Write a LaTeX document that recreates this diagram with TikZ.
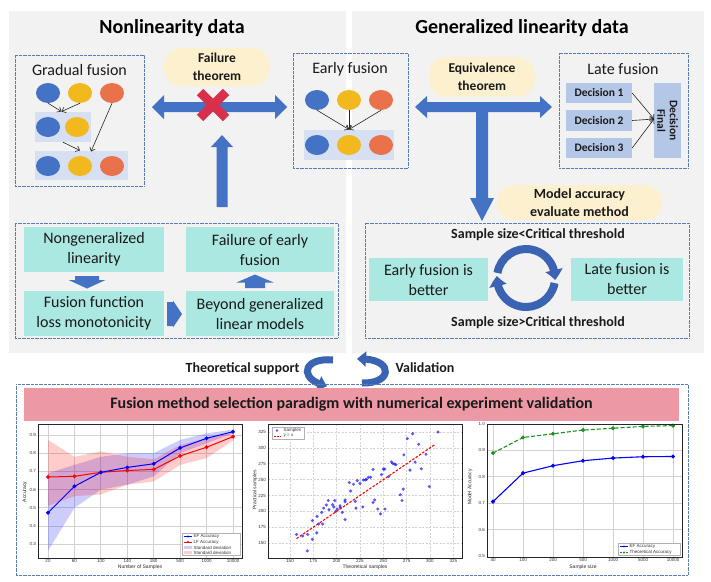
\documentclass[tikz,border=0pt]{standalone}
\usepackage{fontspec}
\setmainfont{Carlito}
\newfontfamily\chartfont{Liberation Sans}
\usetikzlibrary{arrows.meta,shapes.geometric,bending}
\definecolor{panelgray}{HTML}{F2F2F2}
\definecolor{cblue}{HTML}{4472C4}
\definecolor{cyellow}{HTML}{F2B91F}
\definecolor{corange}{HTML}{E9724A}
\definecolor{lightblue}{HTML}{D6E0F2}
\definecolor{decblue}{HTML}{B4C7E7}
\definecolor{creamy}{HTML}{FCF0CE}
\definecolor{tealfill}{HTML}{AAE8E1}
\definecolor{dotblue}{HTML}{5A7BB5}
\definecolor{xred}{HTML}{D8304A}
\definecolor{pinkbar}{HTML}{EC98A5}
\definecolor{ringblue}{HTML}{3B63B3}
\definecolor{gridgray}{HTML}{D2D2D2}
\definecolor{efblue}{HTML}{0000FF}
\definecolor{lfred}{HTML}{FF0000}
\definecolor{thgreen}{HTML}{1F8F1F}
\definecolor{txt}{HTML}{1A1A1A}
\begin{document}
\begin{tikzpicture}[x=1pt,y=-1pt,
  panel/.style={fill=panelgray},
  dotbox/.style={draw=dotblue, line width=0.6pt, dash pattern=on 0.6pt off 0.7pt, inner sep=0pt},
  blob/.style={ellipse, minimum width=24pt, minimum height=20pt, inner sep=0pt},
  bblob/.style={blob, fill=cblue},
  yblob/.style={blob, fill=cyellow},
  oblob/.style={blob, fill=corange},
  grp/.style={fill=lightblue, inner sep=0pt},
  note/.style={fill=creamy, rounded corners=18pt, inner sep=0pt, align=center, text=txt, font=\bfseries\fontsize{13.5}{18}\selectfont},
  thinarrow/.style={-{Straight Barb[length=3.5pt,width=6pt]}, line width=0.6pt, black!85},
  tealbox/.style={fill=tealfill, inner sep=0pt, align=center, text=txt, font=\fontsize{16}{20}\selectfont},
  decbox/.style={fill=decblue, inner sep=0pt, text=txt, font=\bfseries\fontsize{11.5}{12}\selectfont},
  boxlabel/.style={inner sep=0pt, text=txt, font=\fontsize{16}{19}\selectfont},
  heading/.style={inner sep=0pt, text=black, font=\bfseries\fontsize{20}{24}\selectfont},
  boldlab/.style={inner sep=0pt, text=txt, font=\bfseries\fontsize{14}{17}\selectfont},
  curved/.style={ringblue, line width=7pt, -{Triangle[length=9pt,width=15pt,bend]}},
  gridline/.style={gridgray, line width=0.9pt},
  dgridline/.style={gridgray, line width=0.7pt, dash pattern=on 2pt off 1.5pt},
  frame/.style={draw=black!85, line width=0.8pt},
  ticklab/.style={inner sep=0.5pt, text=black!80, font=\chartfont\fontsize{4.5}{5}\selectfont},
  axlab/.style={inner sep=0pt, text=black!85, font=\chartfont\fontsize{5}{6}\selectfont},
  legbox/.style={fill=white, draw=black!30, line width=0.4pt}
]
\useasboundingbox (0,0) rectangle (711,581);
\fill[white] (0,0) rectangle (711,581);

% ---------- top panels ----------
\fill[panel] (9,11) rectangle (346,353);
\fill[panel] (352,11) rectangle (704,353);
\node[heading] (h1) at (172,28) {Nonlinearity data};
\node[heading] (h2) at (522,28) {Generalized linearity data};

% gradual fusion
\node[dotbox, minimum width=129pt, minimum height=131pt] (gfbox) at (79.5,120.5) {};
\node[boxlabel] (gflab) at (79.5,70) {Gradual fusion};
\node[bblob] (g1) at (48,93) {};
\node[yblob] (g2) at (80,93) {};
\node[oblob] (g3) at (112,93) {};
\node[grp, minimum width=56pt, minimum height=30pt] (gr1) at (63,127) {};
\node[bblob] (g4) at (48,127) {};
\node[yblob] (g5) at (77,127) {};
\node[grp, minimum width=93pt, minimum height=29pt] (gr2) at (81.5,165.5) {};
\node[bblob] (g6) at (48,166) {};
\node[yblob] (g7) at (80,166) {};
\node[oblob] (g8) at (112,166) {};
\coordinate (m1) at (61.5,111.5);
\coordinate (m2) at (80,150.5);
\coordinate (m3) at (91,151.5);
\draw[thinarrow] (g1.south) -- (m1);
\draw[thinarrow] (g2.south) -- (m1);
\draw[thinarrow] (gr1.south) -- (m2);
\draw[thinarrow] (g3.south) -- (m3);

% failure theorem
\node[note, minimum width=106pt, minimum height=38pt] (fail) at (217,67) {Failure\\theorem};
\fill[cblue] (152,107) -- (164,95) -- (164,102) -- (275,102) -- (275,95) -- (287,107)
  -- (275,119) -- (275,112) -- (164,112) -- (164,119) -- cycle;
\draw[xred, line width=9pt] (200,92) -- (226,118) (226,92) -- (200,118);
\fill[cblue] (222,135) -- (233,147) -- (227.5,147) -- (227.5,207) -- (216.5,207)
  -- (216.5,147) -- (211,147) -- cycle;

% early fusion
\node[dotbox, minimum width=115pt, minimum height=115pt] (efbox) at (350.5,110.5) {};
\node[boxlabel] (eflab) at (350,69) {Early fusion};
\node[bblob] (e1) at (317,100) {};
\node[yblob] (e2) at (349,100) {};
\node[oblob] (e3) at (381,100) {};
\node[grp, minimum width=90pt, minimum height=30pt] (er) at (349,145) {};
\node[bblob] (e4) at (317,145) {};
\node[yblob] (e5) at (349,145) {};
\node[oblob] (e6) at (381,145) {};
\coordinate (em) at (349,129.5);
\draw[thinarrow] (e1.south) -- (em);
\draw[thinarrow] (e2.south) -- (em);
\draw[thinarrow] (e3.south) -- (em);

% equivalence theorem
\node[note, minimum width=106pt, minimum height=40pt] (equiv) at (482,77) {Equivalence\\theorem};
\fill[cblue] (415,107) -- (427,96) -- (427,102) -- (540,102) -- (540,96) -- (552,107)
  -- (540,118) -- (540,112) -- (488,112) -- (488,198) -- (494,198) -- (482,221)
  -- (470,198) -- (476,198) -- (476,112) -- (427,112) -- (427,118) -- cycle;

% late fusion
\node[dotbox, minimum width=129pt, minimum height=115pt] (lfbox) at (623.5,110.5) {};
\node[boxlabel] (lflab) at (623,69) {Late fusion};
\node[decbox, minimum width=66pt, minimum height=20pt] (d1) at (599,93) {Decision 1};
\node[decbox, minimum width=66pt, minimum height=21pt] (d2) at (599,120.5) {Decision 2};
\node[decbox, minimum width=66pt, minimum height=20pt] (d3) at (599,148) {Decision 3};
\node[decbox, minimum width=27pt, minimum height=75pt] (fd) at (667.5,120.5) {};
\node[rotate=-90, align=center, inner sep=0pt, text=txt, font=\bfseries\fontsize{11.5}{12.5}\selectfont] (fdtext) at (fd.center) {Decision\\Final};
\coordinate (fdin) at (654,119);
\draw[thinarrow] (d1.east) -- (fdin);
\draw[thinarrow] (d2.east) -- (fdin);
\draw[thinarrow] (d3.east) -- (fdin);

% model accuracy
\node[note, rounded corners=17pt, font=\bfseries\fontsize{14}{18}\selectfont, minimum width=165pt, minimum height=35pt] (model) at (579.5,202.5) {Model accuracy\\evaluate method};

% bottom-left reasoning box
\node[dotbox, minimum width=323pt, minimum height=115pt] (blbox) at (176.5,280.5) {};
\node[tealbox, minimum width=140pt, minimum height=45pt] (t1) at (94,249.5) {Nongeneralized\\linearity};
\node[tealbox, minimum width=148pt, minimum height=45pt] (t2) at (260,249.5) {Failure of early\\fusion};
\node[tealbox, minimum width=140pt, minimum height=45pt] (t3) at (94,313.5) {Fusion function\\loss monotonicity};
\node[tealbox, minimum width=148pt, minimum height=45pt] (t4) at (260,313.5) {Beyond generalized\\linear models};
\fill[cblue] (75,276) -- (99,276) -- (99,280) -- (105.5,280) -- (87,288.5) -- (68.5,280) -- (75,280) -- cycle;
\fill[cblue] (255,274.5) -- (273.5,282.5) -- (265,282.5) -- (265,288) -- (245,288) -- (245,282.5) -- (236.5,282.5) -- cycle;
\fill[cblue] (167,302) -- (173,302) -- (173,300.5) -- (182,314) -- (173,327.5) -- (173,326) -- (167,326) -- cycle;

% bottom-right box
\node[dotbox, minimum width=324pt, minimum height=115pt] (brbox) at (527,280.5) {};
\node[boldlab] (lt) at (538,235) {Sample size<Critical threshold};
\node[boldlab] (gt) at (538,323) {Sample size>Critical threshold};
\node[tealbox, font=\fontsize{16}{20}\selectfont, minimum width=119pt, minimum height=43pt] (ef) at (428.5,279.5) {Early fusion is\\better};
\node[tealbox, font=\fontsize{16}{20}\selectfont, minimum width=112pt, minimum height=43pt] (lf) at (627,279.5) {Late fusion is\\better};
\begin{scope}[shift={(526,278)}, x=1pt, y=1pt]
  \draw[ringblue, line width=8pt, -{Triangle[length=10pt,width=17pt,bend]}] (170:29) arc[start angle=170, end angle=-4, radius=29];
  \draw[ringblue, line width=8pt, -{Triangle[length=10pt,width=17pt,bend]}] (-10:29) arc[start angle=-10, end angle=-184, radius=29];
\end{scope}

% middle links
\node[boldlab] (tsup) at (242.5,369) {Theoretical support};
\node[boldlab] (valid) at (425,368) {Validation};
\coordinate (ts0) at (333,360);
\coordinate (ts1) at (327,386);
\draw[curved] (ts0) .. controls (302,357) and (298,380) .. (ts1);
\coordinate (va0) at (362,383);
\coordinate (va1) at (357,359);
\draw[curved] (va0) .. controls (394,384) and (394,357) .. (va1);

% bottom panel
\node[dotbox, minimum width=672pt, minimum height=191pt] (botbox) at (352,479.5) {};
\node[fill=pinkbar, inner sep=0pt, minimum width=655pt, minimum height=33pt, text=txt, font=\bfseries\fontsize{16}{19}\selectfont] (ttl) at (351.5,404.5) {Fusion method selection paradigm with numerical experiment validation};

% ---------- chart 1 ----------
\fill[white] (38,424) rectangle (242,558);
\foreach \i in {0,...,7} \draw[gridline] (48+26.43*\i,424) -- (48+26.43*\i,558);
\foreach \v in {0.3,0.4,0.5,0.6,0.7,0.8,0.9} \draw[gridline] (38,598.8-182*\v) -- (242,598.8-182*\v);
\begin{scope}[shift={(48,598.8)}, x=26.43pt, y=182pt]
  \fill[efblue, opacity=0.2] plot coordinates {(0,0.264)(1,0.5)(2,0.6)(3,0.627)(4,0.673)(5,0.80)(6,0.855)(7,0.91)}
    -- plot coordinates {(7,0.93)(6,0.909)(5,0.873)(4,0.80)(3,0.80)(2,0.78)(1,0.736)(0,0.69)} -- cycle;
  \fill[lfred, opacity=0.2] plot coordinates {(0,0.51)(1,0.564)(2,0.573)(3,0.627)(4,0.645)(5,0.736)(6,0.773)(7,0.869)}
    -- plot coordinates {(7,0.913)(6,0.882)(5,0.845)(4,0.767)(3,0.78)(2,0.81)(1,0.78)(0,0.873)} -- cycle;
  \draw[lfred, line width=1pt] plot[mark=*, mark size=1.4pt] coordinates {(0,0.669)(1,0.673)(2,0.695)(3,0.705)(4,0.711)(5,0.785)(6,0.833)(7,0.891)};
  \draw[efblue, line width=1pt] plot[mark=*, mark size=1.4pt] coordinates {(0,0.473)(1,0.618)(2,0.695)(3,0.722)(4,0.742)(5,0.829)(6,0.882)(7,0.918)};
\end{scope}
\draw[frame] (38,424) rectangle (242,558);
\foreach \i/\t in {0/20,1/60,2/100,3/140,4/180,5/500,6/1000,7/10000}
  \node[ticklab, anchor=north] (ax\i) at (48+26.43*\i,559) {\t};
\foreach \v [count=\k] in {0.3,0.4,0.5,0.6,0.7,0.8,0.9}
  \node[ticklab, anchor=east] (ay\k) at (36.5,598.8-182*\v) {\v};
\node[axlab] (axt) at (140,567.5) {Number of Samples};
\node[axlab, rotate=90] (ayt) at (25,492) {Accuracy};
\draw[legbox] (182,533) rectangle (240.5,555.5);
\draw[efblue, line width=0.8pt] (184,536.5) -- (192,536.5);
\fill[efblue] (188,536.5) circle[radius=1.1pt];
\draw[lfred, line width=0.8pt] (184,542) -- (192,542);
\fill[lfred] (188,542) circle[radius=1.1pt];
\fill[efblue, opacity=0.2] (184,546) rectangle (192,549);
\fill[lfred, opacity=0.2] (184,551) rectangle (192,554);
\node[ticklab, anchor=west] (la1) at (193,536.5) {EF Accuracy};
\node[ticklab, anchor=west] (la2) at (193,542) {LF Accuracy};
\node[ticklab, anchor=west] (la3) at (193,547.5) {Standard deviation};
\node[ticklab, anchor=west] (la4) at (193,552.5) {Standard deviation};

% ---------- chart 2 ----------
\fill[white] (268,424) rectangle (462,558);
\foreach \v in {150,175,...,325} \draw[dgridline] (290+0.9333*\v-140,424) -- (290+0.9333*\v-140,558);
\foreach \v in {150,175,...,325} \draw[dgridline] (268,638.1-0.634*\v) -- (462,638.1-0.634*\v);
\begin{scope}[shift={(150,638.1)}, x=0.9333pt, y=0.634pt]
  \foreach \p in {(157,163.5),(163.6,161),(168.6,137.5),(169,163.5),(174,156),(174,185.4),(178.6,166),(179,192),
    (180.7,180),(184,198.4),(185,180),(186,205),(189,210),(191,217),(191.8,202.6),(195.7,210.4),(197,206.8),
    (198,217),(199,200),(200.7,203.6),(203.6,208.8),(204,206),(206,198.4),(209,215),(209,218),(209,187),
    (213.6,245.3),(215,232),(218,242.7),(220,215.6),(220.7,205),(222,248.4),(225,244),(228,206.8),(228.6,249.5),
    (230.7,249.5),(232,250.5),(234,253.6),(236.4,253.6),(239,266),(239,214),(240.7,218),(244,203.6),(247,196),
    (248,257.8),(250,266.6),(251.4,266.6),(251.8,203.6),(255.7,254.7),(258.6,278),(260,275.5),(262,274.5),
    (263.6,273.4),(268,226),(270,217),(271.4,235),(272,289),(275.7,314.6),(278.6,265),(281.4,322.4),(284,277.6),
    (287.9,305.7),(290.7,267),(295.7,290),(299.3,239),(308.6,325)}
    \fill[efblue, opacity=0.65] \p circle[radius=1.7pt];
  \draw[lfred, line width=1.1pt, dash pattern=on 2.5pt off 1.5pt] (157,157) -- (305,305);
\end{scope}
\draw[frame] (268,424) rectangle (462,558);
\foreach \v [count=\k] in {150,175,...,325}
  \node[ticklab, anchor=north] (bx\k) at (290+0.9333*\v-140,559) {\v};
\foreach \v [count=\k] in {150,175,...,325}
  \node[ticklab, anchor=east] (by\k) at (266.5,638.1-0.634*\v) {\v};
\node[axlab] (bxt) at (365,567.5) {Theoretical samples};
\node[axlab, rotate=90] (byt) at (255,490) {Practical samples};
\draw[legbox] (272,427) rectangle (304,439.5);
\fill[efblue, opacity=0.65] (277,430.5) circle[radius=1.4pt];
\draw[lfred, line width=0.9pt, dash pattern=on 2pt off 1pt] (273.5,436) -- (281,436);
\node[ticklab, anchor=west] (lb1) at (283,430.5) {Samples};
\node[ticklab, anchor=west] (lb2) at (283,436) {y = x};

% ---------- chart 3 ----------
\fill[white] (487,424) rectangle (682,557);
\foreach \i in {0,...,6} \draw[gridline] (493+30*\i,424) -- (493+30*\i,557);
\foreach \v in {0.6,0.7,0.8,0.9} \draw[gridline] (487,688-264*\v) -- (682,688-264*\v);
\begin{scope}[shift={(493,688)}, x=30pt, y=264pt]
  \draw[thgreen, line width=1.1pt, dash pattern=on 4pt off 2pt] plot[mark=*, mark size=1.4pt, mark options={solid}] coordinates {(0,0.89)(1,0.949)(2,0.963)(3,0.977)(4,0.984)(5,0.991)(6,0.994)};
  \draw[efblue, line width=1.1pt] plot[mark=*, mark size=1.4pt] coordinates {(0,0.706)(1,0.814)(2,0.842)(3,0.861)(4,0.871)(5,0.876)(6,0.877)};
\end{scope}
\draw[frame] (487,424) rectangle (682,557);
\foreach \i/\t in {0/40,1/100,2/200,3/500,4/1000,5/5000,6/10000}
  \node[ticklab, anchor=north] (cx\i) at (493+30*\i,558) {\t};
\foreach \v [count=\k] in {0.5,0.6,0.7,0.8,0.9,1.0}
  \node[ticklab, anchor=east] (cy\k) at (485.5,688-264*\v) {\v};
\node[axlab] (cxt) at (583,567) {Sample size};
\node[axlab, rotate=90] (cyt) at (470,487) {Model Accuracy};
\draw[legbox] (618,543) rectangle (680.5,555.5);
\draw[efblue, line width=0.8pt] (620,546.5) -- (628,546.5);
\fill[efblue] (624,546.5) circle[radius=1.1pt];
\draw[thgreen, line width=0.8pt, dash pattern=on 2pt off 1pt] (620,552.5) -- (628,552.5);
\fill[thgreen] (624,552.5) circle[radius=1.1pt];
\node[ticklab, anchor=west] (lc1) at (629,546.5) {EF Accuracy};
\node[ticklab, anchor=west] (lc2) at (629,552.5) {Theoretical Accuracy};
\end{tikzpicture}
\end{document}
